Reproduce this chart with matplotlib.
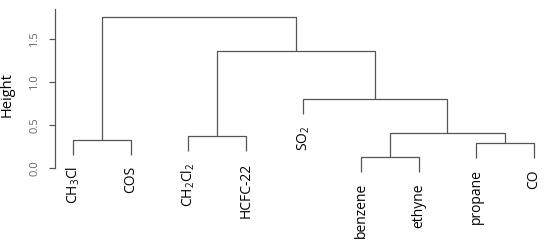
import matplotlib
matplotlib.use("Agg")
import matplotlib.pyplot as plt

plt.rcParams['font.family'] = ['Open Sans', 'DejaVu Sans']
plt.rcParams['mathtext.fontset'] = 'custom'
plt.rcParams['mathtext.rm'] = 'Open Sans'
plt.rcParams['mathtext.it'] = 'Open Sans'

# Leaves in plotting order
labels = ['CH$_3$Cl', 'COS', 'CH$_2$Cl$_2$', 'HCFC-22', 'SO$_2$',
          'benzene', 'ethyne', 'propane', 'CO']
# hclust-style merge table: negative = leaf (1-based), positive = earlier merge
merge_a = [-6, -8, -1, -3, 1, -5, 4, 3]
merge_b = [-7, -9, -2, -4, 2, 5, 6, 7]
heights = [0.13, 0.29, 0.33, 0.37, 0.41, 0.80, 1.36, 1.76]

line_col = '#555555'
hang = 0.1 * max(heights)

fig = plt.figure(figsize=(5.5, 2.45), dpi=100)
ax = fig.add_axes([55 / 550, 0, 495 / 550, 1])

# x position of each merge = midpoint of its children
centers = []
def node_x(k):
    return float(-k) if k < 0 else centers[k - 1]

for a, b, h in zip(merge_a, merge_b, heights):
    xs, ys = [], []
    for k in (a, b):
        x = node_x(k)
        if k < 0:
            y = h - hang
            ax.annotate(labels[-k - 1], (x, y), xytext=(0, -8), textcoords='offset points',
                        rotation=90, ha='center', va='top', fontsize=10, color='black')
        else:
            y = heights[k - 1]
        xs.append(x)
        ys.append(y)
    ax.plot([xs[0], xs[0], xs[1], xs[1]], [ys[0], h, h, ys[1]],
            color=line_col, lw=0.9, solid_capstyle='butt')
    centers.append((xs[0] + xs[1]) / 2)

ax.set_xlim(0.6875, 9.28)
ax.set_ylim(-0.895, 1.953)

for s in ['top', 'right', 'bottom']:
    ax.spines[s].set_visible(False)
ax.spines['left'].set_bounds(0, 1.85)
ax.spines['left'].set_color(line_col)
ax.spines['left'].set_linewidth(0.9)
ax.set_xticks([])
ax.set_yticks([0, 0.5, 1.0, 1.5])
ax.set_yticklabels(['0.0', '0.5', '1.0', '1.5'], rotation=90, va='center',
                   fontsize=8, color='#666666')
ax.tick_params(axis='y', length=4.5, width=0.9, color=line_col, pad=6)
ax.set_ylabel('Height', fontsize=10.5)
ax.yaxis.set_label_coords(-0.081, 0.616)

fig.savefig('out.png', dpi=100)
